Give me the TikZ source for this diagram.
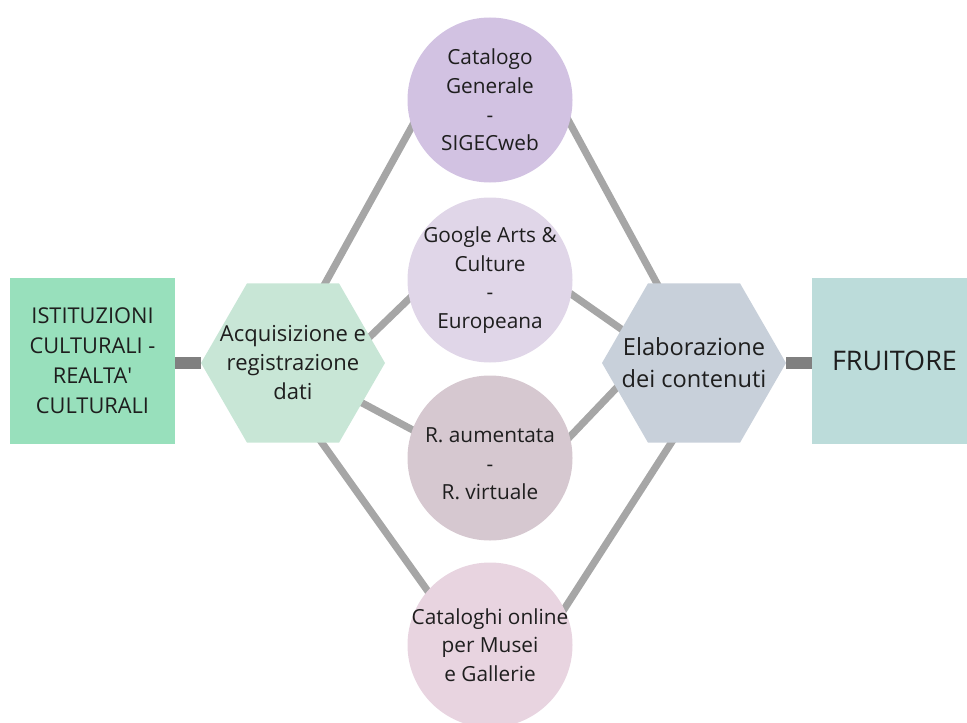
\documentclass[tikz,border=0pt]{standalone}
\usepackage{fontspec}
\setmainfont{Open Sans}
\usetikzlibrary{shapes.geometric,backgrounds}
\definecolor{cIst}{RGB}{152,224,188}
\definecolor{cAcq}{RGB}{200,230,214}
\definecolor{cElab}{RGB}{200,208,218}
\definecolor{cFru}{RGB}{188,220,218}
\definecolor{cCat}{RGB}{210,194,226}
\definecolor{cGoo}{RGB}{224,214,232}
\definecolor{cAum}{RGB}{214,200,208}
\definecolor{cOnl}{RGB}{232,212,224}
\definecolor{cBar}{RGB}{128,128,128}
\definecolor{cLink}{RGB}{166,166,166}
\definecolor{cTxt}{RGB}{30,30,30}
\tikzset{
  txt/.style={align=center,text=cTxt,font=\fontsize{10.4}{14.3}\selectfont},
  box/.style={rectangle,minimum width=82.5pt,minimum height=83pt,inner sep=0pt,txt},
  hexa/.style={regular polygon,regular polygon sides=6,minimum size=92pt,inner sep=0pt},
  disc/.style={circle,minimum size=82.5pt,inner sep=0pt},
  bar/.style={line width=6pt,cBar},
  link/.style={line width=3.6pt,cLink,shorten <=-4pt,shorten >=-4pt}
}

\begin{document}
\begin{tikzpicture}[x=0.5pt,y=-0.5pt]
\useasboundingbox (0,0) rectangle (967,722);
\node[box,fill=cIst,font=\fontsize{10.9}{15}\selectfont] (ist) at (92.5,360.5) {ISTITUZIONI\\CULTURALI -\\REALTA\textquotesingle\\CULTURALI};
\node[hexa,fill=cAcq,label={[txt,font=\fontsize{11}{14.5}\selectfont]center:Acquisizione e\\registrazione\\dati}] (acq) at (293,363) {};
\node[disc,fill=cCat,label={[txt]center:Catalogo\\Generale\\-\\SIGECweb}] (cat) at (490,100) {};
\node[disc,fill=cGoo,label={[txt]center:Google Arts \&\\Culture\\-\\Europeana}] (goo) at (490,280) {};
\node[disc,fill=cAum,label={[txt,yshift=-3pt]center:R. aumentata\\-\\R. virtuale}] (aum) at (490,458) {};
\node[disc,fill=cOnl,label={[txt]center:Cataloghi online\\per Musei\\e Gallerie}] (onl) at (490,645) {};
\node[hexa,fill=cElab,label={[txt,font=\fontsize{11.8}{16}\selectfont]center:Elaborazione\\dei contenuti}] (elab) at (694,363) {};
\node[box,fill=cFru,font=\fontsize{13.5}{16}\selectfont] (fru) at (894.5,360.5) {FRUITORE};
\begin{scope}[on background layer]
\draw[bar] (acq -| ist) -- (acq);
\draw[bar] (elab) -- (elab -| fru);
\draw[link] (acq.68) -- (cat.199);
\draw[link] (cat.344) -- (elab.115);
\draw[link] (acq.19) -- (goo.193);
\draw[link] (goo.350) -- (elab.155);
\draw[link] (acq.-30) -- (aum.160);
\draw[link] (aum.15) -- (elab.198);
\draw[link] (acq.-70) -- (onl.139);
\draw[link] (onl.26) -- (elab.254);
\end{scope}
\end{tikzpicture}
\end{document}
